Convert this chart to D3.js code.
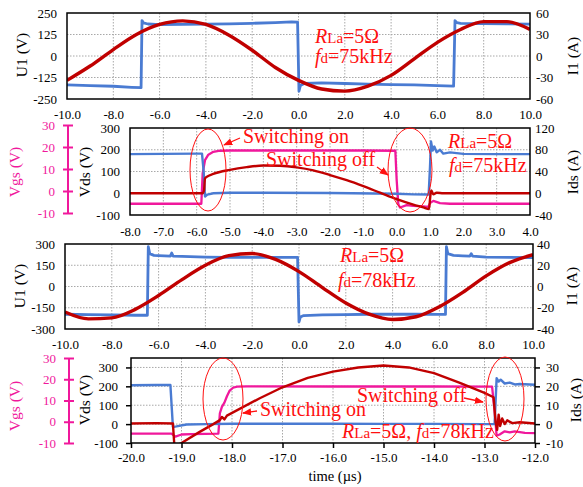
<!DOCTYPE html>
<html>
<head>
<meta charset="utf-8">
<style>
body { margin: 0; background: #fff; }
svg text { font-family: "Liberation Serif", "Times New Roman", serif; }
</style>
</head>
<body>
<svg id="chart" width="583" height="487"></svg>
<script src="https://cdn.jsdelivr.net/npm/d3@7"></script>
<script>
// values: [time (us), value]
var p1U1 = [[-10,-168],[-9,-172],[-8,-176],[-7.2,-182],[-6.8,-184],[-6.76,206],[-6.7,192],[-6.5,186],[-6,183],[-5,184],[-4,185],[-3,187],[-2,190],[-1,194],[-0.3,198],[-0.04,197],[0.02,-205],[0.08,-172],[0.25,-160],[1,-156],[2,-160],[3,-163],[4,-166],[5,-168],[6,-172],[6.7,-175],[6.76,206],[6.84,194],[7,190],[8,188],[9,187],[10,185]];
var p1I1 = [[-10,-34],[-9,-14],[-8,9],[-7,30],[-6,44],[-5,49],[-4,44],[-3,29],[-2,8],[-1,-16],[0,-34],[1,-46],[2,-49],[3,-42],[4,-27],[5,-4],[6,19],[7,37],[8,48],[9,48],[10,37]];

var p2Vds = [[-8,180],[-7,181],[-6,182],[-5.84,182],[-5.79,100],[-5.75,-15],[-5.68,-6],[-5.5,0],[-5,2],[-4,2],[-2,1],[0,-2],[0.5,-5],[0.96,-6],[1.0,120],[1.03,238],[1.08,196],[1.13,215],[1.2,188],[1.3,200],[1.4,182],[1.6,188],[2,181],[3,180],[4,180]];
var p2Vgs = [[-8,-5.8],[-6,-5.8],[-5.86,-5.8],[-5.82,8],[-5.75,14],[-5.65,16.5],[-5.5,17.8],[-5.3,18.3],[-5,18.4],[-3,18.4],[-1,18.4],[-0.04,18.3],[0.0,5],[0.05,-6],[0.1,-7.5],[0.3,-6.4],[0.5,-6.8],[0.8,-7],[0.95,-7.2],[1.0,-5.5],[1.1,-4.5],[1.3,-5.5],[1.6,-5.8],[2,-5.8],[4,-5.8]];
var p2Ids = [[-8,0],[-6,0],[-5.82,0],[-5.78,5],[-5.75,27],[-5.7,30],[-5.5,35.5],[-5,43],[-4.5,48],[-4,51],[-3.5,50.5],[-3,47.5],[-2.5,42],[-2,33.5],[-1.5,24],[-1,13],[-0.5,1],[0,-11],[0.5,-21],[0.8,-26],[0.97,-29],[1.01,-5],[1.04,5],[1.1,-2],[1.2,1],[1.4,0],[2,0],[4,0]];

var p3U1 = [[-10,-196],[-9,-198],[-8,-200],[-7,-203],[-6.48,-203],[-6.44,281],[-6.38,232],[-6.2,220],[-6,218],[-5.5,214],[-5.44,236],[-5.38,214],[-5,212],[-4,208],[-3,206],[-2,205],[-1,205],[-0.06,205],[0,-250],[0.06,-215],[0.2,-205],[1,-200],[2,-198],[3,-196],[4,-196],[5,-196],[6,-197],[6.26,-197],[6.3,281],[6.36,232],[6.6,220],[7,216],[7.3,214],[7.36,232],[7.42,214],[8,208],[9,205],[10,204]];
var p3I1 = [[-10,-24],[-9,-30.5],[-8,-29.5],[-7,-21.5],[-6,-8.5],[-5,6.5],[-4,20],[-3,29],[-2,31],[-1,25.5],[0,14],[1,-1],[2,-15.5],[3,-26],[4,-31],[5,-28.5],[6,-19],[7,-5.5],[8,10],[9,22.5],[10,30]];

var p4Vds = [[-20,206],[-19.5,207],[-19.22,207],[-19.17,-15],[-19.1,-12],[-18.9,-2],[-18.5,0],[-18,2],[-17,2],[-16,2],[-15,1],[-14,1],[-13,0],[-12.8,0],[-12.76,243],[-12.72,225],[-12.68,235],[-12.6,215],[-12.5,220],[-12.4,210],[-12.3,212],[-12,208]];
var p4Vgs = [[-20,-5.6],[-19.2,-5.6],[-19.12,-7],[-19.0,-6],[-18.8,-5.8],[-18.27,-5.6],[-18.24,4],[-18.2,7],[-18.15,9],[-18.1,12],[-18.05,14.5],[-17.98,16],[-17.9,16.5],[-17.7,16.6],[-16,16.6],[-14,16.6],[-12.85,16.5],[-12.8,5],[-12.76,-6.5],[-12.7,-6],[-12.6,-4.5],[-12.5,-5],[-12.4,-4.5],[-12.2,-5.2],[-12,-5.4]];
var p4Ids = [[-20,0.3],[-19.5,0.5],[-19.17,0.3],[-19.14,-12],[-19.0,-10],[-18.64,-4.1],[-18.37,0],[-18.24,2.1],[-18.2,3.8],[-18.15,2.5],[-18.1,4.5],[-17.45,13.7],[-17,19.5],[-16.5,24.5],[-16,27.8],[-15.5,30],[-15,31],[-14.5,30],[-14,27],[-13.5,22],[-13,16.5],[-12.82,14.2],[-12.78,1],[-12.75,-3],[-12.72,5],[-12.69,-1],[-12.65,3],[-12.6,0],[-12.55,2],[-12.45,0.5],[-12.3,1],[-12,0.3]];

// tick labels
var ticks10 = [-10,-8,-6,-4,-2,0,2,4,6,8,10];
var ticks2x = [-8,-7,-6,-5,-4,-3,-2,-1,0,1,2,3,4];
var ticks4x = [-20,-19,-18,-17,-16,-15,-14,-13,-12];
var vgsTicks = [-10,0,10,20,30];

var BLUE = "#4a7bd2", RED = "#c00000", PINK = "#f0189c", ANNO = "#ff1010";
var FONT = "Liberation Serif, Times New Roman, serif";

var svg = d3.select("#chart");

function drawPanel(p) {
    var x = d3.scaleLinear().domain(p.xDomain).range([p.x0, p.x1]);
    var yL = d3.scaleLinear().domain(p.yL).range([p.y1, p.y0]);
    var yR = d3.scaleLinear().domain(p.yR).range([p.y1, p.y0]);

    svg.append("clipPath").attr("id", p.id)
        .append("rect").attr("x", p.x0).attr("y", p.y0)
        .attr("width", p.x1 - p.x0).attr("height", p.y1 - p.y0);

    // grid
    var g = svg.append("g").attr("stroke", "#a8a8a8").attr("stroke-dasharray", "1.5,1.5");
    g.selectAll(".gx").data(p.xTicks.filter(function(d) { return d > p.xDomain[0] && d < p.xDomain[1]; }))
        .enter().append("line")
        .attr("x1", function(d) { return x(d); }).attr("x2", function(d) { return x(d); })
        .attr("y1", p.y0).attr("y2", p.y1);
    g.selectAll(".gy").data(p.yLTicks.filter(function(d) { return d > p.yL[0] && d < p.yL[1]; }))
        .enter().append("line")
        .attr("y1", function(d) { return yL(d); }).attr("y2", function(d) { return yL(d); })
        .attr("x1", p.x0).attr("x2", p.x1);

    // traces
    p.series.forEach(function(s) {
        var ys = s.axis === "L" ? yL : (s.axis === "R" ? yR : s.scale);
        svg.append("path").datum(s.data)
            .attr("clip-path", "url(#" + p.id + ")")
            .attr("fill", "none")
            .attr("stroke", s.color)
            .attr("stroke-width", s.width)
            .attr("stroke-linejoin", "round")
            .attr("d", d3.line().curve(s.smooth ? d3.curveMonotoneX : d3.curveLinear)
                .x(function(d) { return x(d[0]); })
                .y(function(d) { return ys(d[1]); }));
    });

    // frame
    svg.append("rect").attr("x", p.x0).attr("y", p.y0)
        .attr("width", p.x1 - p.x0).attr("height", p.y1 - p.y0)
        .attr("fill", "none").attr("stroke", "#000").attr("stroke-width", 1.5);

    function style(a) {
        a.attr("font-family", FONT).attr("font-size", 13);
        a.select(".domain").remove();
        a.selectAll(".tick line").attr("stroke-width", 1.5);
        a.selectAll("text").attr("fill", "#000");
    }

    svg.append("g").attr("transform", "translate(0," + p.y1 + ")")
        .call(d3.axisBottom(x).tickValues(p.xTicks).tickFormat(function(d) { return d.toFixed(1); })
            .tickSize(p.tick).tickPadding(p.xPad))
        .call(style);
    svg.append("g").attr("transform", "translate(" + p.x0 + ",0)")
        .call(d3.axisLeft(yL).tickValues(p.yLTicks).tickFormat(function(d) { return d; })
            .tickSize(p.tick).tickPadding(p.lPad))
        .call(style);
    svg.append("g").attr("transform", "translate(" + p.x1 + ",0)")
        .call(d3.axisRight(yR).tickValues(p.yRTicks).tickFormat(function(d) { return d; })
            .tickSize(p.tick).tickPadding(p.rPad))
        .call(style);

    // axis titles
    p.titles.forEach(function(t) {
        svg.append("text")
            .attr("transform", "translate(" + t[1] + "," + t[2] + ") rotate(-90)")
            .attr("text-anchor", "middle").attr("dy", "0.35em")
            .attr("font-size", 15.5).attr("fill", t[3] || "#000")
            .text(t[0]);
    });
}

function vgsAxis(xPos, scale) {
    svg.append("line").attr("x1", xPos).attr("x2", xPos)
        .attr("y1", scale.range()[1]).attr("y2", scale.range()[0])
        .attr("stroke", PINK).attr("stroke-width", 2);
    var a = svg.append("g").attr("transform", "translate(" + (xPos + 5) + ",0)")
        .call(d3.axisLeft(scale).tickValues(vgsTicks).tickFormat(function(d) { return d; })
            .tickSize(10).tickPadding(8));
    a.attr("font-family", FONT).attr("font-size", 13);
    a.select(".domain").remove();
    a.selectAll(".tick line").attr("stroke", PINK).attr("stroke-width", 2);
    a.selectAll("text").attr("fill", PINK);
}

var vgs2 = d3.scaleLinear().domain([-10, 30]).range([213, 125]);
var vgs4 = d3.scaleLinear().domain([-10, 30]).range([443, 358]);

drawPanel({
    id: "c1", x0: 67, x1: 530, y0: 13, y1: 99,
    xDomain: [-10, 10], xTicks: ticks10,
    yL: [-250, 250], yLTicks: [-250, -125, 0, 125, 250],
    yR: [-60, 60], yRTicks: [-60, -30, 0, 30, 60],
    tick: 0, xPad: 11, lPad: 10, rPad: 6,
    titles: [["U1 (V)", 22, 55], ["I1 (A)", 573, 56]],
    series: [
        {data: p1U1, axis: "L", color: BLUE, width: 2.8},
        {data: p1I1, axis: "R", color: RED, width: 3.4, smooth: true}
    ]
});

drawPanel({
    id: "c2", x0: 130, x1: 530, y0: 128, y1: 215,
    xDomain: [-8, 4], xTicks: ticks2x,
    yL: [-100, 300], yLTicks: [-100, 0, 100, 200, 300],
    yR: [-40, 120], yRTicks: [-40, 0, 40, 80, 120],
    tick: 0, xPad: 12, lPad: 10, rPad: 5,
    titles: [["Vds (V)", 85, 172], ["Ids (A)", 573, 172], ["Vgs (V)", 15, 172, PINK]],
    series: [
        {data: p2Vgs, axis: "G", scale: vgs2, color: PINK, width: 2.3},
        {data: p2Vds, axis: "L", color: BLUE, width: 2.4},
        {data: p2Ids, axis: "R", color: RED, width: 2.4, smooth: true}
    ]
});
vgsAxis(68, vgs2);

drawPanel({
    id: "c3", x0: 65, x1: 533, y0: 244, y1: 329,
    xDomain: [-10, 10], xTicks: ticks10,
    yL: [-300, 300], yLTicks: [-300, -150, 0, 150, 300],
    yR: [-40, 40], yRTicks: [-40, -20, 0, 20, 40],
    tick: 0, xPad: 10.5, lPad: 10, rPad: 4,
    titles: [["U1 (V)", 20, 286], ["I1 (A)", 572, 286]],
    series: [
        {data: p3U1, axis: "L", color: BLUE, width: 2.8},
        {data: p3I1, axis: "R", color: RED, width: 3.4, smooth: true}
    ]
});

drawPanel({
    id: "c4", x0: 131, x1: 535, y0: 358, y1: 443,
    xDomain: [-20, -12], xTicks: ticks4x,
    yL: [-100, 350], yLTicks: [-100, 0, 100, 200, 300],
    yR: [-10, 35], yRTicks: [-10, 0, 10, 20, 30],
    tick: 5, xPad: 4.5, lPad: 8, rPad: 6,
    titles: [["Vds (V)", 85, 400], ["Ids (A)", 576, 400], ["Vgs (V)", 15, 406, PINK]],
    series: [
        {data: p4Vgs, axis: "G", scale: vgs4, color: PINK, width: 2.3},
        {data: p4Vds, axis: "L", color: BLUE, width: 2.4},
        {data: p4Ids, axis: "R", color: RED, width: 2.4}
    ]
});
vgsAxis(69, vgs4);

svg.append("text").attr("x", 335).attr("y", 481).attr("text-anchor", "middle")
    .attr("font-size", 14.5).text("time (\u00b5s)");

// annotations
svg.append("defs").append("marker").attr("id", "arr")
    .attr("viewBox", "0 0 10 10").attr("refX", 9).attr("refY", 5)
    .attr("markerWidth", 7).attr("markerHeight", 7).attr("orient", "auto")
    .append("path").attr("d", "M0,1 L10,5 L0,9 z").attr("fill", ANNO);

function note(x, y, parts) {
    var t = svg.append("text").attr("x", x).attr("y", y).attr("fill", ANNO);
    parts.forEach(function(p) {
        t.append("tspan").attr("font-size", p[1])
            .attr("font-style", p[2] ? "italic" : "normal").text(p[0]);
    });
}
function ring(cx, cy, rx, ry) {
    svg.append("ellipse").attr("cx", cx).attr("cy", cy).attr("rx", rx).attr("ry", ry)
        .attr("fill", "none").attr("stroke", ANNO).attr("stroke-width", 1);
}
function arrow(x1, y1, x2, y2) {
    svg.append("line").attr("x1", x1).attr("y1", y1).attr("x2", x2).attr("y2", y2)
        .attr("stroke", ANNO).attr("stroke-width", 1.3).attr("marker-end", "url(#arr)");
}

note(315, 43, [["R", 20, true], ["La", 15], ["=5\u03a9", 20]]);
note(315, 63, [["f", 20, true], ["d", 15], ["=75kHz", 20]]);

ring(208, 170, 18, 41);
ring(410, 170, 22, 42);
note(243, 143, [["Switching on", 20]]);
note(266, 166, [["Switching off", 20]]);
arrow(240, 138, 224, 145);
arrow(377, 167, 388, 175);
note(448, 148, [["R", 20, true], ["La", 15], ["=5\u03a9", 20]]);
note(449, 172, [["f", 20, true], ["d", 15], ["=75kHz", 20]]);

note(340, 262, [["R", 20, true], ["La", 15], ["=5\u03a9", 20]]);
note(338, 287, [["f", 20, true], ["d", 15], ["=78kHz", 20]]);

ring(223, 399, 20, 41);
ring(505, 399, 19, 42);
note(260, 416, [["Switching on", 20]]);
arrow(257, 411, 243, 413);
note(357, 402, [["Switching off", 20]]);
arrow(464, 398, 483, 402);
note(342, 438, [["R", 20, true], ["La", 15], ["=5\u03a9, ", 20], ["f", 20, true], ["d", 15], ["=78kHz", 20]]);
</script>
</body>
</html>
